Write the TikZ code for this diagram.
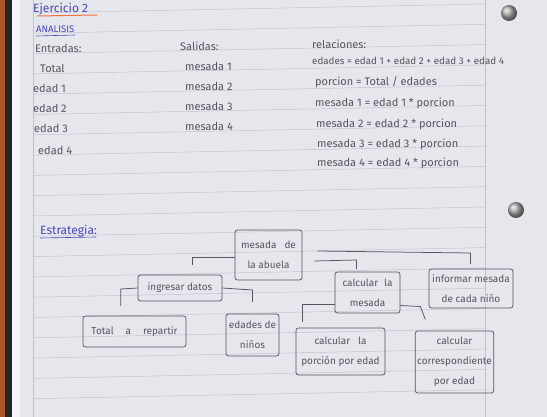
\documentclass[tikz,border=0pt]{standalone}
\usepackage{fontspec}
\setmainfont{Fira Sans}
\usepackage{xcolor}
\usepackage{tikz}
\usetikzlibrary{calc,positioning}
\definecolor{paper}{HTML}{E6E6ED}
\definecolor{rulegray}{HTML}{C2C2CC}
\definecolor{pencil}{HTML}{55555F}
\definecolor{ink}{HTML}{4848B4}
\definecolor{orange}{HTML}{EE7436}
\definecolor{wood}{HTML}{A9592A}
\tikzset{
  rule/.style={draw=rulegray,line width=.5pt},
  link/.style={draw=pencil,line width=.75pt},
  hand/.style={text=pencil,font=\fontsize{11}{20}\selectfont,inner sep=0pt,anchor=base west},
  head/.style={text=ink,font=\fontsize{12}{20}\selectfont,inner sep=0pt,anchor=base west},
  box/.style={draw=pencil,line width=.75pt,rounded corners=2.5pt,align=center,
              text=pencil,font=\fontsize{10}{20}\selectfont,inner sep=2pt},
}
\begin{document}
\begin{tikzpicture}[x=1pt,y=-1pt]
  \useasboundingbox (0,0) rectangle (547,417);
  % notebook page
  \fill[paper] (0,0) rectangle (547,417);
  \fill[wood] (0,0) rectangle (5,417);
  \fill[black!85] (5,0) rectangle (12,417);
  \fill[white!60!paper] (12,0) rectangle (20,417);
  \foreach \k in {0,...,19}
    \draw[rule] (33,{13+20.3*\k}) -- (485,{4+20.3*\k});
  \draw[rule] (33,0) -- (33,417);
  \draw[rule] (485,0) -- (485,417);
  \shade[ball color=gray!65] (509,13) circle (8);
  \shade[ball color=gray!65] (516,210) circle (8);
  % analisis
  \node[head] (ej) at (33,13) {Ejercicio 2};
  \draw[orange,line width=1pt] (37,16) -- (97,15);
  \node[head,font=\fontsize{9.5}{20}\selectfont] (an) at (36,33) {ANALISIS};
  \draw[ink,line width=.6pt] (36,36) -- (75,35);
  \node[hand] (ent) at (35,53) {Entradas:};
  \node[hand] (sal) at (180,51) {Salidas:};
  \node[hand] (rel) at (312,49) {relaciones:};
  \node[hand] (tt) at (40,73) {Total};
  \node[hand] (e1) at (33,93) {edad 1};
  \node[hand] (e2) at (33,113) {edad 2};
  \node[hand] (e3) at (34,133) {edad 3};
  \node[hand] (e4) at (38,155) {edad 4};
  \node[hand] (m1) at (185,71) {mesada 1};
  \node[hand] (m2) at (185,91) {mesada 2};
  \node[hand] (m3) at (185,111) {mesada 3};
  \node[hand] (m4) at (185,131) {mesada 4};
  \node[hand,font=\fontsize{9.8}{20}\selectfont] (r1) at (312,65) {edades = edad 1 + edad 2 + edad 3 + edad 4};
  \node[hand] (r2) at (315,86) {porcion = Total / edades};
  \node[hand] (r3) at (315,107) {mesada 1 = edad 1 * porcion};
  \node[hand] (r4) at (316,128) {mesada 2 = edad 2 * porcion};
  \node[hand] (r5) at (317,148) {mesada 3 = edad 3 * porcion};
  \node[hand] (r6) at (317,167) {mesada 4 = edad 4 * porcion};
  % estrategia
  \node[head] (es) at (40,235) {Estrategia:};
  \draw[ink,line width=.6pt] (40,238) -- (96,237);
  \node[box,minimum width=67pt,minimum height=50pt] (r) at (268.5,255) {mesada\hspace{8pt}de\\la abuela};
  \node[box,minimum width=84pt,minimum height=26pt] (ing) at (180,288) {ingresar datos};
  \node[box,minimum width=65pt,minimum height=41pt] (calc) at (367.5,292.5) {calcular\hspace{6pt}la\\mesada};
  \node[box,minimum width=84pt,minimum height=39pt] (inf) at (471,288.5) {informar mesada\\de cada niño};
  \node[box,minimum width=103pt,minimum height=31pt] (tot) at (134.5,331.5) {Total\hspace{12pt}a\hspace{12pt}repartir};
  \node[box,minimum width=53pt,minimum height=42pt] (eda) at (252.5,335) {edades de\\niños};
  \node[box,minimum width=89pt,minimum height=47pt] (por) at (340.5,351.5) {calcular\hspace{8pt}la\\porción por edad};
  \node[box,minimum width=77pt,minimum height=62pt] (corr) at (454.5,362) {calcular\\correspondiente\\por edad};
  \draw[link] ($(r.west)+(0,2)$) -- ++(-42,0) -- ++(0,8);
  \draw[link] ($(r.east)+(12,6)$) -- ++(42,-1) -- ++(0,9);
  \draw[link] ($(r.east)+(15,-4)$) -- ++(153,2) -- ++(0,11);
  \draw[link] (ing.west) -- ++(-17,1) -- ++(0,17);
  \draw[link] (ing.east) -- ++(30,2) -- ++(0,12);
  \draw[link] ($(calc.west)+(0,12)$) -- ++(-32,0) -- ++(0,17);
  \draw[link] ($(calc.east)+(0,13)$) -- ++(20,1) -- ++(5,13);
\end{tikzpicture}
\end{document}
